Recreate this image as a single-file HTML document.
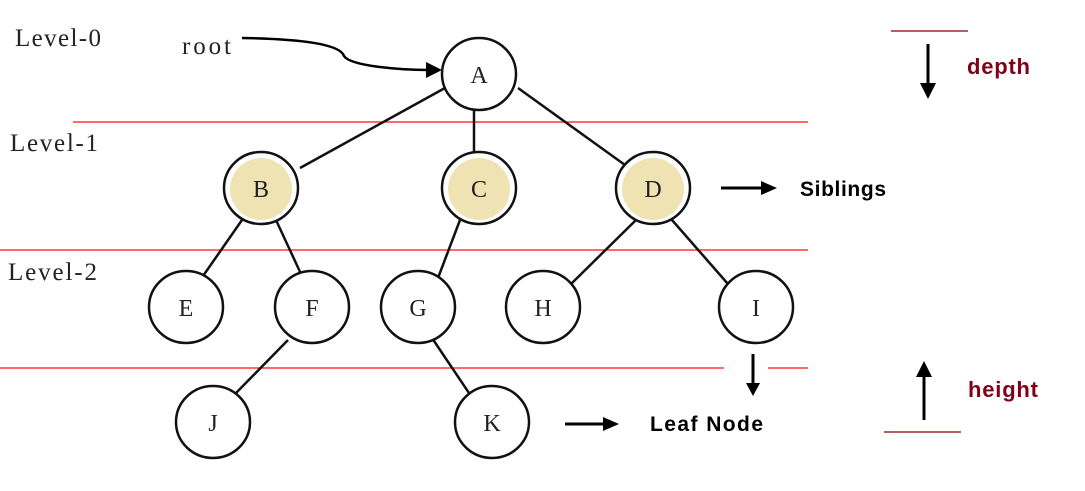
<!DOCTYPE html>
<html><head><meta charset="utf-8"><style>
html,body{margin:0;padding:0;background:#fff;}
svg{display:block;}
.s{font-family:"Liberation Serif",serif;font-size:25px;fill:#222;}
.n{font-family:"Liberation Serif",serif;font-size:24px;fill:#222;text-anchor:middle;}
.b{font-family:"Liberation Sans",sans-serif;font-weight:bold;font-size:21px;fill:#000;}
.r{font-family:"Liberation Sans",sans-serif;font-weight:bold;font-size:22px;fill:#800018;}
</style></head><body>
<svg width="1085" height="491" viewBox="0 0 1085 491" xmlns="http://www.w3.org/2000/svg">
<g stroke="#ff1010" stroke-width="1.3">
<line x1="73" y1="122" x2="808" y2="122"/>
<line x1="0" y1="250" x2="808" y2="250"/>
<line x1="0" y1="368" x2="724" y2="368"/>
<line x1="768" y1="368" x2="808" y2="368"/>
</g>
<g stroke="#8b0000" stroke-width="1.3">
<line x1="891" y1="31" x2="968" y2="31"/>
<line x1="884" y1="432" x2="961" y2="432"/>
</g>
<g stroke="#111" stroke-width="2.5">
<line x1="445" y1="88" x2="300" y2="168"/>
<line x1="474" y1="110" x2="474" y2="154"/>
<line x1="518" y1="88" x2="625" y2="165"/>
<line x1="242" y1="220" x2="203" y2="276"/>
<line x1="276" y1="220" x2="301" y2="274"/>
<line x1="460" y1="220" x2="438" y2="278"/>
<line x1="636" y1="220" x2="571" y2="284"/>
<line x1="672" y1="220" x2="728" y2="284"/>
<line x1="288" y1="340" x2="236" y2="393"/>
<line x1="432" y1="338" x2="469" y2="393"/>
</g>
<path d="M242,38 C300,39 340,44 344,56 C350,66 400,70 428,70" fill="none" stroke="#000" stroke-width="2.5"/>
<path d="M426,62 L442,70 L426,78 z" fill="#000"/>
<g stroke="#111" stroke-width="2.5">
<ellipse cx="479" cy="74" rx="37" ry="36" fill="#fff"/>
<ellipse cx="261" cy="188" rx="37" ry="36" fill="#fff"/>
<ellipse cx="479" cy="188" rx="37" ry="36" fill="#fff"/>
<ellipse cx="653" cy="188" rx="37" ry="36" fill="#fff"/>
<ellipse cx="186" cy="307" rx="37" ry="36" fill="#fff"/>
<ellipse cx="312" cy="307" rx="37" ry="36" fill="#fff"/>
<ellipse cx="418" cy="307" rx="37" ry="36" fill="#fff"/>
<ellipse cx="543" cy="307" rx="37" ry="36" fill="#fff"/>
<ellipse cx="756" cy="307" rx="37" ry="36" fill="#fff"/>
<ellipse cx="213" cy="422" rx="37" ry="36" fill="#fff"/>
<ellipse cx="492" cy="422" rx="37" ry="36" fill="#fff"/>
</g>
<g fill="#efe3b4">
<circle cx="261" cy="189" r="31"/>
<circle cx="479" cy="189" r="31"/>
<circle cx="653" cy="189" r="31"/>
</g>
<g class="n">
<text x="479" y="83">A</text>
<text x="261" y="197">B</text>
<text x="479" y="197">C</text>
<text x="653" y="197">D</text>
<text x="186" y="316">E</text>
<text x="312" y="316">F</text>
<text x="418" y="316">G</text>
<text x="543" y="316">H</text>
<text x="756" y="316">I</text>
<text x="213" y="431">J</text>
<text x="492" y="431">K</text>
</g>
<text class="s" x="15" y="46" textLength="86">Level-0</text>
<text class="s" x="10" y="151" textLength="88">Level-1</text>
<text class="s" x="8" y="280" textLength="89">Level-2</text>
<text class="s" x="182" y="54" textLength="49">root</text>
<g stroke="#000" stroke-width="3">
<line x1="721" y1="188" x2="762" y2="188"/>
<line x1="565" y1="424" x2="604" y2="424"/>
<line x1="753" y1="354" x2="753" y2="384"/>
<line x1="928" y1="44" x2="928" y2="84"/>
<line x1="924" y1="420" x2="924" y2="376"/>
</g>
<g fill="#000">
<path d="M761,181 L777,188 L761,195 z"/>
<path d="M603,417 L619,424 L603,431 z"/>
<path d="M746,383 L753,396 L760,383 z"/>
<path d="M920,83 L928,99 L936,83 z"/>
<path d="M916,377 L924,361 L932,377 z"/>
</g>
<text class="b" x="800" y="196" textLength="86">Siblings</text>
<text class="b" x="650" y="431" textLength="113">Leaf Node</text>
<text class="r" x="967" y="74" textLength="63">depth</text>
<text class="r" x="968" y="397" textLength="70">height</text>
</svg>
</body></html>
